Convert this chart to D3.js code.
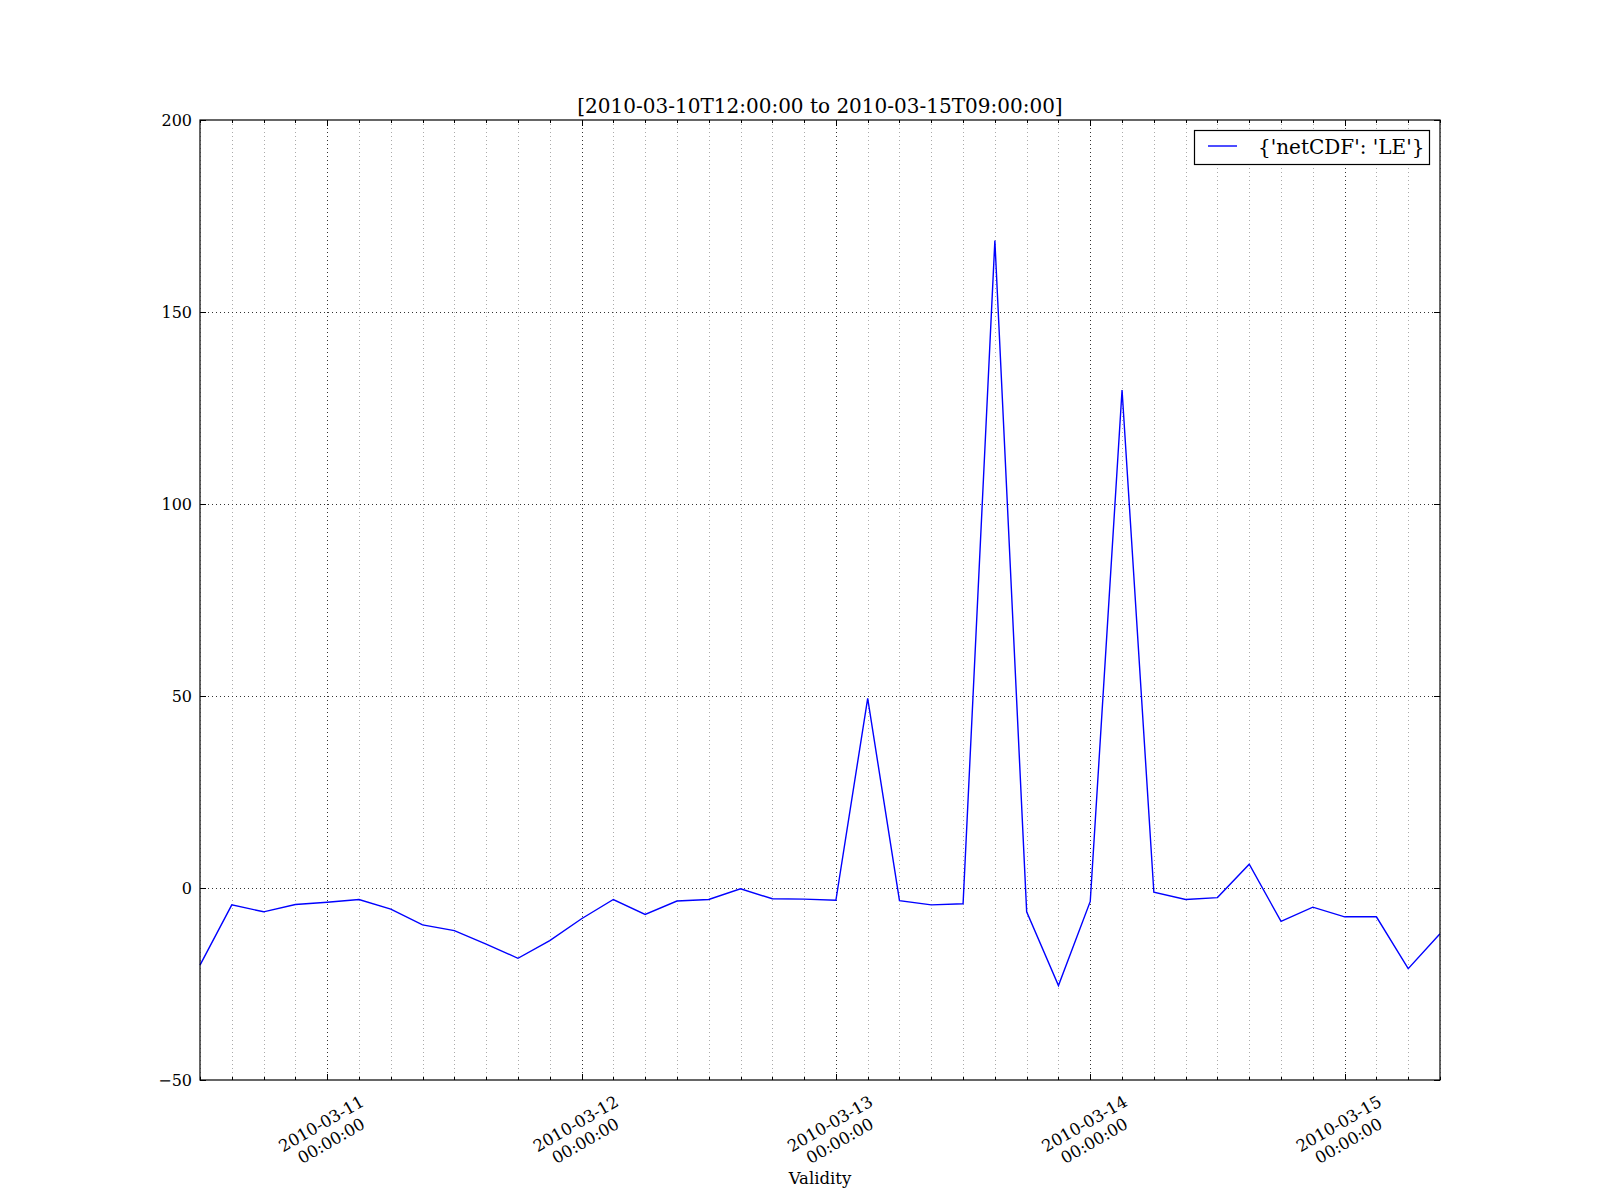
<!DOCTYPE html>
<html>
<head>
<meta charset="utf-8">
<script src="https://cdn.jsdelivr.net/npm/d3@7"></script>
<style>
  html, body { margin: 0; padding: 0; background: #fff; }
  text { font-family: "DejaVu Serif", serif; fill: #000; }
</style>
</head>
<body>
<svg id="chart" width="1600" height="1200"></svg>
<script>
// ---- data ----
const times = [
  "2010-03-10T12:00:00Z","2010-03-10T15:00:00Z","2010-03-10T18:00:00Z","2010-03-10T21:00:00Z",
  "2010-03-11T00:00:00Z","2010-03-11T03:00:00Z","2010-03-11T06:00:00Z","2010-03-11T09:00:00Z",
  "2010-03-11T12:00:00Z","2010-03-11T15:00:00Z","2010-03-11T18:00:00Z","2010-03-11T21:00:00Z",
  "2010-03-12T00:00:00Z","2010-03-12T03:00:00Z","2010-03-12T06:00:00Z","2010-03-12T09:00:00Z",
  "2010-03-12T12:00:00Z","2010-03-12T15:00:00Z","2010-03-12T18:00:00Z","2010-03-12T21:00:00Z",
  "2010-03-13T00:00:00Z","2010-03-13T03:00:00Z","2010-03-13T06:00:00Z","2010-03-13T09:00:00Z",
  "2010-03-13T12:00:00Z","2010-03-13T15:00:00Z","2010-03-13T18:00:00Z","2010-03-13T21:00:00Z",
  "2010-03-14T00:00:00Z","2010-03-14T03:00:00Z","2010-03-14T06:00:00Z","2010-03-14T09:00:00Z",
  "2010-03-14T12:00:00Z","2010-03-14T15:00:00Z","2010-03-14T18:00:00Z","2010-03-14T21:00:00Z",
  "2010-03-15T00:00:00Z","2010-03-15T03:00:00Z","2010-03-15T06:00:00Z","2010-03-15T09:00:00Z"
];
const leValues = [
  -20.1, -4.4, -6.2, -4.3, -3.7, -3.0, -5.5, -9.6,
  -11.1, -14.6, -18.3, -13.7, -8.0, -3.0, -6.9, -3.4,
  -3.0, -0.2, -2.8, -2.9, -3.2, 49.4, -3.3, -4.4,
  -4.1, 168.6, -6.2, -25.4, -3.5, 129.7, -1.1, -3.0,
  -2.5, 6.2, -8.7, -5.0, -7.5, -7.5, -21.0, -11.9
];
const yTicks = [-50, 0, 50, 100, 150, 200];
const yTickLabels = ["\u221250", "0", "50", "100", "150", "200"];
const xMajorTicks = ["2010-03-11T00:00:00Z","2010-03-12T00:00:00Z","2010-03-13T00:00:00Z","2010-03-14T00:00:00Z","2010-03-15T00:00:00Z"];
const xMajorLabels = [["2010-03-11","00:00:00"],["2010-03-12","00:00:00"],["2010-03-13","00:00:00"],["2010-03-14","00:00:00"],["2010-03-15","00:00:00"]];
const titleText = "[2010-03-10T12:00:00 to 2010-03-15T09:00:00]";
const xLabelText = "Validity";
const legendText = "{'netCDF': 'LE'}";

// ---- layout ----
const svg = d3.select("#chart");
const L = 200, R = 1440, T = 120, B = 1080;
svg.append("rect").attr("width", 1600).attr("height", 1200).attr("fill", "#fff");

const parsed = times.map(t => new Date(t));
const x = d3.scaleUtc().domain([parsed[0], parsed[parsed.length - 1]]).range([L, R]);
const y = d3.scaleLinear().domain([-50, 200]).range([B, T]);

const majorDates = xMajorTicks.map(t => new Date(t));
const majorSet = new Set(majorDates.map(d => +d));
const minorTicks = parsed.filter(d => !majorSet.has(+d));

const g = svg.append("g");

// grid: minor vertical
g.append("g").selectAll("line").data(minorTicks).join("line")
  .attr("x1", d => Math.round(x(d)) + 0.5).attr("x2", d => Math.round(x(d)) + 0.5)
  .attr("y1", T).attr("y2", B)
  .attr("stroke", "#aaa").attr("stroke-width", 1).attr("stroke-dasharray", "1,3");
// grid: major vertical
g.append("g").selectAll("line").data(majorDates).join("line")
  .attr("x1", d => Math.round(x(d)) + 0.5).attr("x2", d => Math.round(x(d)) + 0.5)
  .attr("y1", T).attr("y2", B)
  .attr("stroke", "#333").attr("stroke-width", 1).attr("stroke-dasharray", "1,3");
// grid: horizontal
g.append("g").selectAll("line").data(yTicks.slice(1, -1)).join("line")
  .attr("x1", L).attr("x2", R)
  .attr("y1", d => Math.round(y(d)) + 0.5).attr("y2", d => Math.round(y(d)) + 0.5)
  .attr("stroke", "#333").attr("stroke-width", 1).attr("stroke-dasharray", "1,3");

// data line
const line = d3.line().x((d, i) => x(parsed[i])).y(d => y(d));
g.append("path").datum(leValues)
  .attr("d", line).attr("fill", "none").attr("stroke", "#0000ff")
  .attr("stroke-width", 1.4).attr("stroke-linejoin", "miter");

// ticks (inward)
const tk = g.append("g").attr("stroke", "#000").attr("stroke-width", 1);
majorDates.forEach(d => {
  const xx = Math.round(x(d)) + 0.5;
  tk.append("line").attr("x1", xx).attr("x2", xx).attr("y1", B).attr("y2", B - 6);
  tk.append("line").attr("x1", xx).attr("x2", xx).attr("y1", T).attr("y2", T + 6);
});
minorTicks.forEach(d => {
  const xx = Math.round(x(d)) + 0.5;
  tk.append("line").attr("x1", xx).attr("x2", xx).attr("y1", B).attr("y2", B - 3);
  tk.append("line").attr("x1", xx).attr("x2", xx).attr("y1", T).attr("y2", T + 3);
});
yTicks.forEach(v => {
  const yy = Math.round(y(v)) + 0.5;
  tk.append("line").attr("x1", L).attr("x2", L + 6).attr("y1", yy).attr("y2", yy);
  tk.append("line").attr("x1", R).attr("x2", R - 6).attr("y1", yy).attr("y2", yy);
});

// frame
g.append("rect").attr("x", L).attr("y", T).attr("width", R - L).attr("height", B - T)
  .attr("fill", "none").attr("stroke", "#000").attr("stroke-width", 1.2);

// y tick labels
g.append("g").selectAll("text").data(yTicks).join("text")
  .attr("x", L - 8).attr("y", d => y(d)).attr("dy", "0.36em")
  .attr("text-anchor", "end").attr("font-size", 16)
  .text((d, i) => yTickLabels[i]);

// x tick labels (rotated 30deg, two lines)
majorDates.forEach((d, i) => {
  const outer = g.append("g");
  const inner = outer.append("g").attr("transform", "rotate(-30)");
  xMajorLabels[i].forEach((s, j) => {
    inner.append("text").attr("x", 0).attr("y", j * 19.5)
      .attr("text-anchor", "middle").attr("font-size", 16.5).text(s);
  });
  const bb = outer.node().getBBox();
  const tx = x(d) + 50 - (bb.x + bb.width);
  const ty = 1092 - bb.y;
  outer.attr("transform", `translate(${tx},${ty})`);
});

// x label
g.append("text").attr("x", (L + R) / 2).attr("y", 1184).attr("text-anchor", "middle")
  .attr("font-size", 16.5).text(xLabelText);

// title
g.append("text").attr("x", (L + R) / 2).attr("y", 113).attr("text-anchor", "middle")
  .attr("font-size", 20).text(titleText);

// legend
const lg = g.append("g");
lg.append("rect").attr("x", 1194.5).attr("y", 130.5).attr("width", 235).attr("height", 34)
  .attr("fill", "#fff").attr("stroke", "#000").attr("stroke-width", 1.2);
lg.append("line").attr("x1", 1208).attr("x2", 1237).attr("y1", 146).attr("y2", 146)
  .attr("stroke", "#0000ff").attr("stroke-width", 1.4);
lg.append("text").attr("x", 1258).attr("y", 147).attr("dy", "0.36em")
  .attr("font-size", 20).text(legendText);
</script>
</body>
</html>
